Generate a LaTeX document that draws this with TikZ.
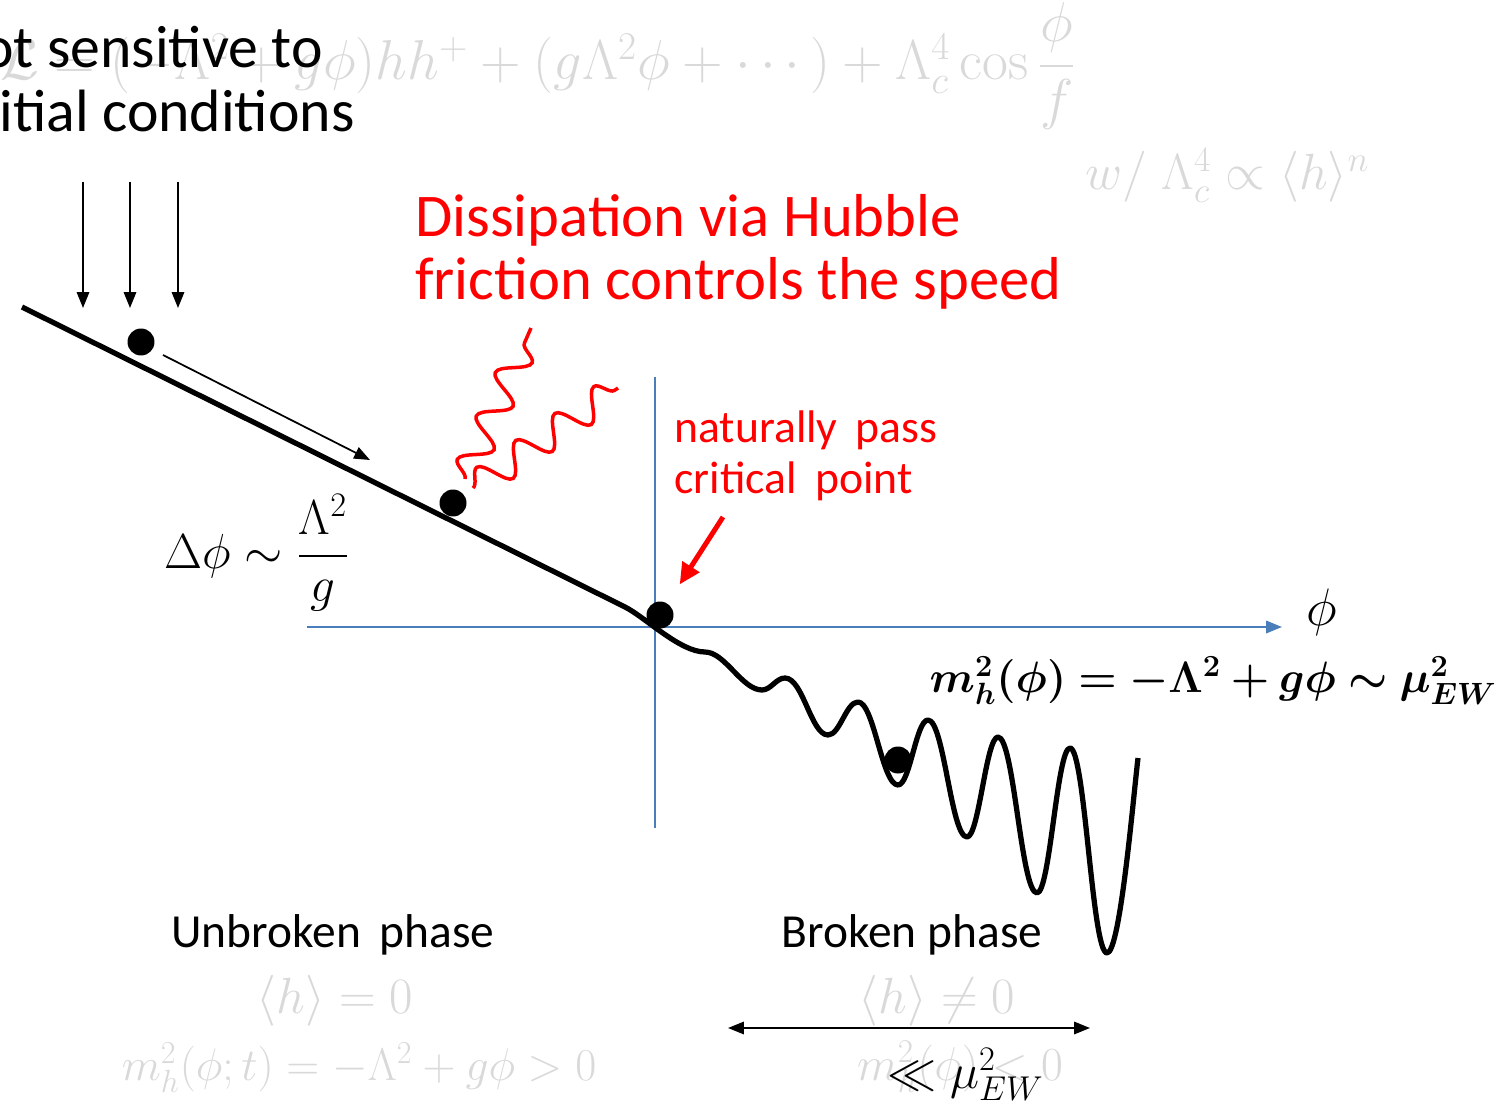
\RequirePackage{fix-cm}
\documentclass[tikz,border=0pt]{standalone}
\usepackage{amsmath}
\usepackage{bm}
\usepackage[no-math]{fontspec}
\setmainfont{Carlito}
\usetikzlibrary{arrows.meta, decorations.pathmorphing}

\definecolor{axisblue}{RGB}{74,126,187}
\definecolor{ghostgray}{RGB}{217,217,217}
\definecolor{hotred}{RGB}{255,0,0}

\begin{document}
\begin{tikzpicture}[x=0.02cm, y=-0.02cm, >={Triangle[length=9pt,width=7pt]},
    every node/.style={inner sep=0pt},
    ball/.style={circle, fill=black, minimum size=0.54cm},
    ghost/.style={text=ghostgray, font=\fontsize{29}{34}\selectfont},
    redlabel/.style={text=hotred, anchor=base west},
    curve/.style={line width=0.105cm, line join=round},
    axis/.style={draw=axisblue, line width=0.045cm},
    photon/.style={draw=hotred, line width=0.07cm, decorate,
        decoration={snake, amplitude=8.5pt, segment length=27pt}}]
    \useasboundingbox (0,0) rectangle (1511,1101);
    \clip (0,0) rectangle (1511,1101);

    % faint formulas in the background
    \node[ghost, anchor=base west, font=\fontsize{32}{38}\selectfont] (lagr) at (0,80) {$\mathcal{L} = (-\Lambda^2 + g\phi)hh^{+} + (g\Lambda^2\phi + \cdots) + \Lambda_c^4\cos\dfrac{\phi}{f}$};
    \node[ghost, anchor=base west] (wlam) at (1085,190) {$w/\;\Lambda_c^4 \propto \langle h\rangle^{n}$};
    \node[ghost, anchor=base] (hzero) at (335,1013) {$\langle h\rangle = 0$};
    \node[ghost, anchor=base, font=\fontsize{26}{31}\selectfont] (mpos) at (359,1080) {$m_h^2(\phi;t) = -\Lambda^2 + g\phi > 0$};
    \node[ghost, anchor=base] (hnz) at (937,1013) {$\langle h\rangle \neq 0$};
    \node[ghost, anchor=base, font=\fontsize{27}{32}\selectfont] (mneg) at (960,1080) {$m_h^2(\phi) < 0$};

    % initial conditions
    \node[anchor=base east, font=\fontsize{34}{40}\selectfont] (ns1) at (323,68) {ot sensitive to};
    \node[anchor=base east, font=\fontsize{34}{40}\selectfont] (ns2) at (355,132) {itial conditions};
    \foreach \x/\n in {83/a, 130/b, 178/c} {
        \coordinate (top\n) at (\x,182);
        \coordinate (bot\n) at (\x,308);
        \draw[->, line width=0.04cm] (top\n) -- (bot\n);
    }

    % axes
    \coordinate (xl) at (307,627);
    \coordinate (xr) at (1282,627);
    \coordinate (yt) at (655,377);
    \coordinate (yb) at (655,828);
    \draw[axis, -{Triangle[length=9pt,width=7pt]}] (xl) -- (xr);
    \draw[axis] (yt) -- (yb);
    \node (philab) at (1322,612) {\fontsize{30}{36}\selectfont$\phi$};

    % potential
    \draw[curve] (22,307) -- (625,607)
        .. controls (645,617) and (680,652) .. (705,652)
        .. controls (725,652) and (742,690) .. (762,690)
        .. controls (771,690) and (776,678) .. (785,678)
        .. controls (803,678) and (811,735) .. (828,735)
        .. controls (840,735) and (846,702) .. (858,702)
        .. controls (874,702) and (882,785) .. (898,785)
        .. controls (910,785) and (916,720) .. (928,720)
        .. controls (944,720) and (951,837) .. (967,837)
        .. controls (979,837) and (986,737) .. (998,737)
        .. controls (1014,737) and (1021,893) .. (1037,893)
        .. controls (1050,893) and (1057,748) .. (1070,748)
        .. controls (1085,748) and (1092,953) .. (1107,953)
        .. controls (1120,953) and (1133,800) .. (1138,758);

    % balls
    \node[ball] (ball1) at (141,342) {};
    \node[ball] (ball2) at (453,503) {};
    \node[ball] (ball3) at (660,615) {};
    \node[ball] (ball4) at (898,760) {};

    % rolling direction
    \coordinate (rs) at (163,355);
    \coordinate (re) at (370,460);
    \draw[->, line width=0.035cm] (rs) -- (re);

    % radiation
    \coordinate (w1s) at (465,479);
    \coordinate (w1e) at (531,328);
    \coordinate (w2s) at (473,488);
    \coordinate (w2e) at (618,388);
    \draw[photon] (w1s) -- (w1e);
    \draw[photon] (w2s) -- (w2e);

    % red labels
    \node[redlabel, font=\fontsize{34.5}{41}\selectfont] (diss1) at (415,237) {Dissipation via Hubble};
    \node[redlabel, font=\fontsize{34.5}{41}\selectfont] (diss2) at (415,300) {friction controls the speed};
    \node[redlabel, font=\fontsize{26}{31}\selectfont] (nat1) at (674,442) {naturally\hspace{0.4em}pass};
    \node[redlabel, font=\fontsize{26}{31}\selectfont] (nat2) at (674,493) {critical\hspace{0.4em}point};
    \coordinate (ra) at (723,517);
    \draw[->, draw=hotred, line width=0.1cm, shorten >=0.45cm,
        >={Triangle[length=12pt,width=11pt]}] (ra) -- (ball3);

    % formulas
    \node (dphi) at (257,553) {\fontsize{28}{34}\selectfont$\Delta\phi \sim \dfrac{\Lambda^2}{g}$};
    \node[anchor=base east] (mh) at (1497,692) {\fontsize{25}{30}\selectfont$\bm{m_h^2(\phi) = -\Lambda^2 + g\phi \sim \mu_{EW}^2}$};

    % phases
    \node[anchor=base, font=\fontsize{27}{32}\selectfont] (unbr) at (333,947) {Unbroken\hspace{0.4em}phase};
    \node[anchor=base, font=\fontsize{27}{32}\selectfont] (brok) at (912,947) {Broken phase};
    \coordinate (rngl) at (728,1028);
    \coordinate (rngr) at (1090,1028);
    \draw[<->, line width=0.04cm] (rngl) -- (rngr);
    \node[anchor=base west] (llmu) at (887,1088) {\fontsize{28}{34}\selectfont$\ll \mu_{EW}^2$};
\end{tikzpicture}
\end{document}
